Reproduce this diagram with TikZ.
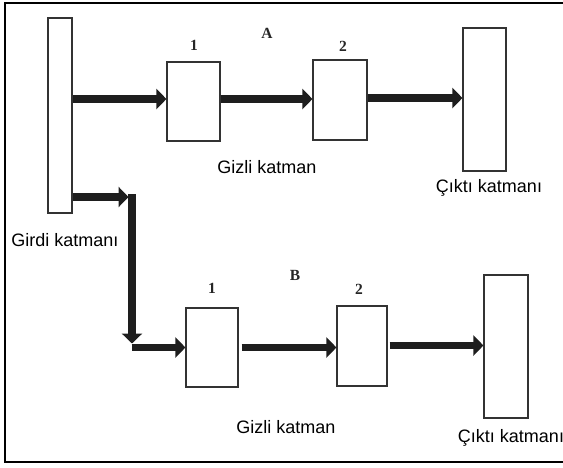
\documentclass[tikz,border=0pt]{standalone}
\usepackage{fontspec}
\setmainfont{Liberation Sans}
\newfontfamily\serifb{Liberation Serif}
\usetikzlibrary{arrows.meta}
\definecolor{arrcol}{HTML}{1E1E1E}
\definecolor{boxcol}{HTML}{333333}
\tikzset{
  px/.style={x=1pt,y=-1pt},
  layerbox/.style={draw=boxcol,line width=1.1pt,fill=white,inner sep=0pt,minimum width=#1},
  arr/.style={draw=arrcol,line width=7.5pt,line cap=butt,-{Triangle[length=10pt,width=20pt]}},
  lbl/.style={font=\fontsize{18}{20}\selectfont,text=black,inner sep=0pt},
  numlbl/.style={font=\serifb\bfseries\fontsize{15.5}{17}\selectfont,text=black!85,inner sep=0pt}
}
\begin{document}
\begin{tikzpicture}[px]
\useasboundingbox (0,0) rectangle (563,467);
\clip (0,0) rectangle (563,467);
\draw[line width=1.3pt] (570,3) -- (5,3) -- (5,462) -- (570,462);
% nodes
\node[layerbox=24pt,minimum height=195pt] (in) at (60,115.5) {};
\node[layerbox=53pt,minimum height=79pt] (a1) at (193.5,101.5) {};
\node[layerbox=54pt,minimum height=80pt] (a2) at (340,100) {};
\node[layerbox=43pt,minimum height=143pt] (oa) at (484.5,99.5) {};
\node[layerbox=52pt,minimum height=79pt] (b1) at (212,347.5) {};
\node[layerbox=50pt,minimum height=80pt] (b2) at (362,346) {};
\node[layerbox=44pt,minimum height=143pt] (ob) at (506,346.5) {};
% labels
\node[numlbl] (la1) at (194,45) {1};
\node[numlbl] (lA) at (267,33) {A};
\node[numlbl] (la2) at (343,46.5) {2};
\node[lbl] (ga) at (267,167) {Gizli katman};
\node[lbl] (ca) at (489,188) {Çıktı katmanı};
\node[lbl] (gi) at (65,240) {Girdi katmanı};
\node[numlbl] (lb1) at (212,288) {1};
\node[numlbl] (lB) at (295,275) {B};
\node[numlbl] (lb2) at (359,289) {2};
\node[lbl] (gb) at (286,427) {Gizli katman};
\node[lbl] (cb) at (511,438) {Çıktı katmanı};
% corners
\coordinate (c1) at (132,197);
\coordinate (c2) at (132,347.5);
% connectors
\draw[arr] (in.east |- 0,99) -- (a1.west |- 0,99);
\draw[arr] (a1.east |- 0,99) -- (a2.west |- 0,99);
\draw[arr] (a2.east |- 0,98) -- (oa.west |- 0,98);
\draw[arr] (in.east |- c1) -- ([xshift=-3.5pt]c1);
\draw[arr] ([yshift=3pt]c1) -- ([yshift=4pt]c2);
\draw[arr] ([xshift=-0.5pt]c2) -- (b1.west |- c2);
\draw[arr] ([xshift=3pt]b1.east |- c2) -- (b2.west |- c2);
\draw[arr] ([xshift=2pt]b2.east |- 0,345.5) -- (ob.west |- 0,345.5);
\end{tikzpicture}
\end{document}
